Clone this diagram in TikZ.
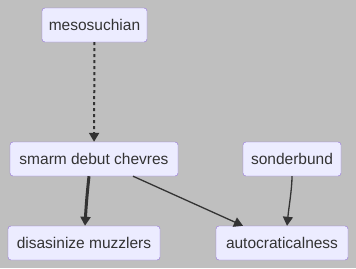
\documentclass[tikz,border=0pt]{standalone}
\usepackage{fontspec}
\setmainfont{Liberation Sans}
\definecolor{PanelGrey}{RGB}{191, 191, 191}
\definecolor{NodeFill}{RGB}{236, 236, 255}
\definecolor{NodeEdge}{RGB}{147, 112, 219}
\definecolor{Ink}{RGB}{51, 51, 51}
\usetikzlibrary{arrows.meta, positioning}

\begin{document}
\begin{tikzpicture}[
    x=1pt, y=-1pt,
    every node/.style={font=\fontsize{15.5}{18}\selectfont, text=Ink, align=center},
    item/.style={draw=NodeEdge, fill=NodeFill, rounded corners=3pt,
                minimum height=34pt, inner xsep=2pt},
    link/.style={-{Triangle[length=9pt, width=10pt]}, Ink, line width=1.3pt}
]
\fill[PanelGrey] (0,0) rectangle (356,268);
\useasboundingbox (0,0) rectangle (356,268);

\node[item, minimum width=105pt] (meso) at (94.5,25) {mesosuchian};
\node[item, minimum width=168pt] (smarm) at (94,159) {smarm debut chevres};
\node[item, minimum width=98pt] (sond) at (292,159) {sonderbund};
\node[item, minimum width=152pt] (disa) at (84,243) {disasinize muzzlers};
\node[item, minimum width=132pt] (auto) at (282,243) {autocraticalness};

\draw[link, dash pattern=on 3pt off 3pt, line width=2pt] (meso) -- (smarm);
\draw[link, line width=3pt] ([xshift=-5pt]smarm.south) .. controls +(-2,18) and +(1,-18) .. ([xshift=1pt]disa.north);
\draw[link] ([xshift=39pt]smarm.south) -- ([xshift=-39pt]auto.north);
\draw[link] (sond) .. controls +(0,30) and +(2,-20) .. ([xshift=5pt]auto.north);
\end{tikzpicture}
\end{document}
